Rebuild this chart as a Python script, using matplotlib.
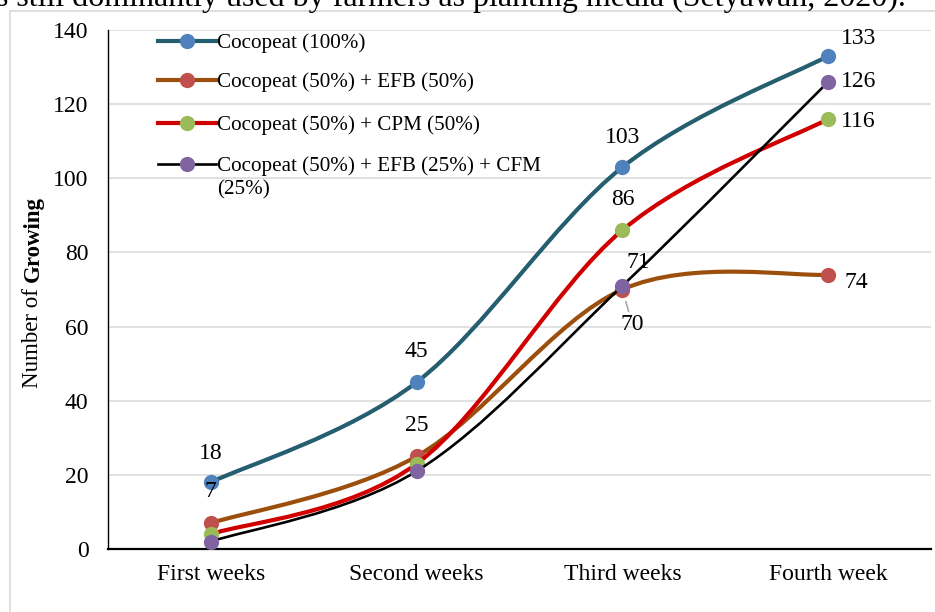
import matplotlib
matplotlib.use("Agg")
import matplotlib.pyplot as plt
from matplotlib.lines import Line2D
from matplotlib.path import Path
from matplotlib.patches import PathPatch

# ---- data ----
weeks = ["First weeks", "Second weeks", "Third weeks", "Fourth week"]
cocopeat_100 = [18, 45, 103, 133]
cocopeat_efb = [7, 25, 70, 74]
cocopeat_cpm = [4, 23, 86, 116]
cocopeat_efb_cfm = [2, 21, 71, 126]

series_names = [
    "Cocopeat (100%)",
    "Cocopeat (50%) + EFB (50%)",
    "Cocopeat (50%) + CPM (50%)",
    "Cocopeat (50%) + EFB (25%) + CFM",
]
series_values = [cocopeat_100, cocopeat_efb, cocopeat_cpm, cocopeat_efb_cfm]
line_colors = ["#255E6E", "#9C4F0C", "#D00000", "#000000"]
marker_colors = ["#4F81BD", "#C0504D", "#9BBB59", "#8064A2"]
line_widths = [3.0, 3.0, 3.0, 1.9]

# labels shown in the chart: (series index, week index, offset in px)
labels = [
    (0, 0, (0, 29)), (1, 0, (0, 32)),
    (0, 1, (0, 31)), (1, 1, (0, 31)),
    (0, 2, (0, 30)), (2, 2, (0, 31)),
    (3, 2, (16, 23)), (1, 2, (10, -35)),
    (0, 3, (30, 17)), (3, 3, (30, 0)), (2, 3, (30, -3)), (1, 3, (28, -8)),
]

plt.rcParams["font.family"] = ["Liberation Serif", "DejaVu Serif"]

W, H = 935, 612
fig = plt.figure(figsize=(W / 100, H / 100), dpi=100)


def fx(x):
    return x / W


def fy(y):
    return 1 - y / H


def px2pt(v):
    return v * 72 / 100


ax = fig.add_axes([fx(108), fy(549), fx(931) - fx(108), fy(30) - fy(549)])
ax.set_xlim(-0.5, len(weeks) - 0.5)
ax.set_ylim(0, 140)
ax.set_yticks(range(0, 141, 20))
ax.set_xticks(range(len(weeks)))
ax.set_xticklabels(weeks)
ax.tick_params(axis="both", length=0, labelsize=17)
ax.tick_params(axis="y", pad=14)
ax.tick_params(axis="x", pad=11)
ax.grid(True, axis="y", color="#D9D9D9", linewidth=1.1)
ax.set_axisbelow(True)
for side in ["top", "right"]:
    ax.spines[side].set_visible(False)
ax.spines["left"].set_linewidth(1.0)
ax.spines["bottom"].set_linewidth(1.6)


def smooth_path(xs, ys):
    # Excel-style smoothed line: cubic Bezier through the points
    verts = [(xs[0], ys[0])]
    codes = [Path.MOVETO]
    n = len(xs)
    for i in range(n - 1):
        x0, y0 = (xs[i - 1], ys[i - 1]) if i > 0 else (xs[i], ys[i])
        x1, y1 = xs[i], ys[i]
        x2, y2 = xs[i + 1], ys[i + 1]
        x3, y3 = (xs[i + 2], ys[i + 2]) if i + 2 < n else (x2, y2)
        c1 = (x1 + (x2 - x0) / 6, y1 + (y2 - y0) / 6)
        c2 = (x2 - (x3 - x1) / 6, y2 - (y3 - y1) / 6)
        verts += [c1, c2, (x2, y2)]
        codes += [Path.CURVE4] * 3
    return Path(verts, codes)


xs = list(range(len(weeks)))
for k, vals in enumerate(series_values):
    patch = PathPatch(smooth_path(xs, vals), facecolor="none",
                      edgecolor=line_colors[k], linewidth=line_widths[k],
                      capstyle="round", joinstyle="round", zorder=3 + k)
    ax.add_patch(patch)
    ax.plot(xs, vals, linestyle="none", marker="o", markersize=11,
            color=marker_colors[k], markeredgewidth=0, zorder=3 + k)

for s, w, (dx, dy) in labels:
    val = series_values[s][w]
    if (s, w) == (1, 2):
        ax.annotate(str(val), xy=(w, val), xytext=(px2pt(dx), px2pt(dy)),
                    textcoords="offset points", ha="center", va="center",
                    fontsize=17, zorder=10,
                    arrowprops=dict(arrowstyle="-", color="#A6A6A6", lw=1.2,
                                    shrinkA=0, shrinkB=9))
    else:
        ax.annotate(str(val), xy=(w, val), xytext=(px2pt(dx), px2pt(dy)),
                    textcoords="offset points", ha="center", va="center",
                    fontsize=17, zorder=10)

# legend drawn in figure pixels
legend_rows = [41, 80, 123, 164]
for k, name in enumerate(series_names):
    yy = legend_rows[k]
    fig.add_artist(Line2D([fx(158), fx(216)], [fy(yy), fy(yy)],
                          color=line_colors[k], linewidth=line_widths[k]))
    fig.add_artist(Line2D([fx(187)], [fy(yy)], marker="o", markersize=11,
                          color=marker_colors[k], markeredgewidth=0))
    fig.text(fx(217), fy(yy), name, fontsize=15.2, va="center_baseline", ha="left")
fig.text(fx(217), fy(187), "(25%)", fontsize=15.2, va="center_baseline", ha="left")

# y label: "Number of" regular + "Growing" bold
t1 = fig.text(fx(33), fy(388), "Number of ", rotation=90, rotation_mode="anchor",
              ha="left", va="center", fontsize=16.5)
fig.canvas.draw()
bb = t1.get_window_extent()
fig.text(fx(33), bb.y1 / H, "Growing", rotation=90, rotation_mode="anchor",
         ha="left", va="center", fontsize=16.5, fontweight="bold")

# chart border and the clipped line of page text above the chart
fig.add_artist(Line2D([fx(10), fx(10)], [fy(11), 0], color="#D9D9D9", linewidth=1.2))
fig.add_artist(Line2D([fx(10), 1], [fy(11), fy(11)], color="#D9D9D9", linewidth=1.2))
fig.text(fx(-4), fy(6), "s still dominantly used by farmers as planting media (Setyawan, 2020).",
         fontsize=23, va="baseline", ha="left")

fig.savefig("out.png", dpi=100)
